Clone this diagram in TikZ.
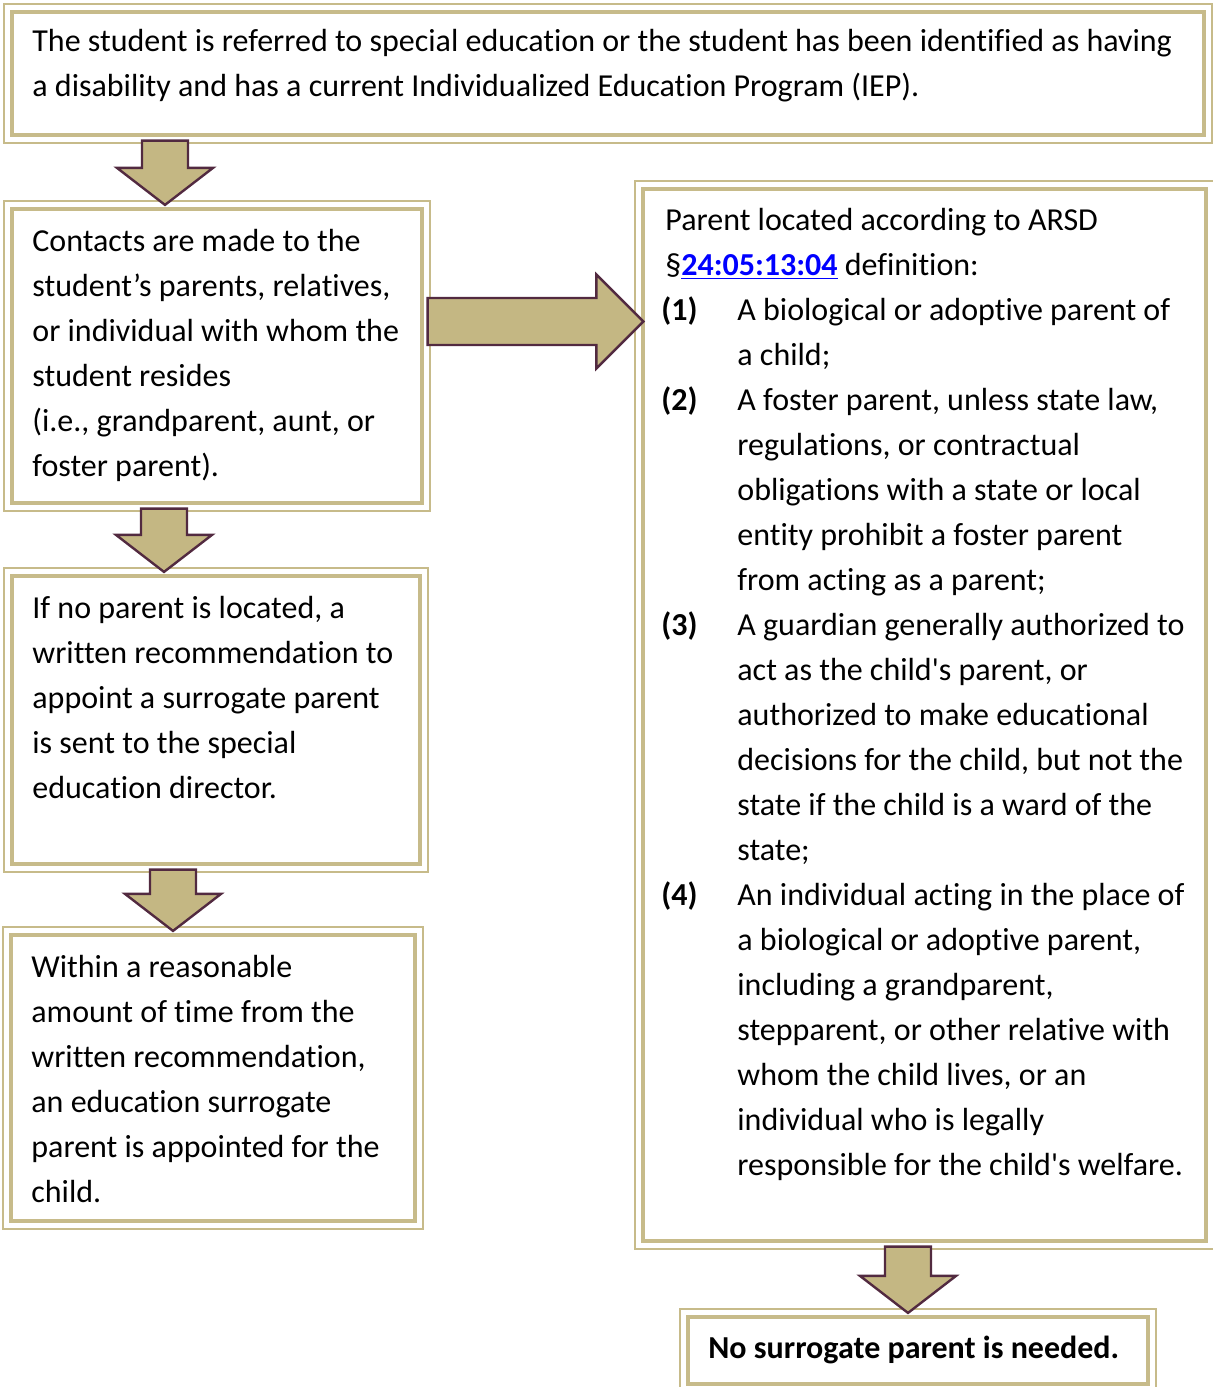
\documentclass[tikz,border=0pt]{standalone}
\usepackage{fontspec}
\setmainfont{Carlito}[Ligatures={TeX,NoCommon}]
\usetikzlibrary{fit,calc}
\definecolor{frametan}{RGB}{199,187,138}
\definecolor{arrowtan}{RGB}{196,183,131}
\definecolor{arrowedge}{RGB}{82,42,64}
\definecolor{linkblue}{RGB}{0,0,255}
\newcommand{\sq}{\textquotesingle}
\newcommand{\natspace}{\frenchspacing\spaceskip=0pt\xspaceskip=0pt\relax}
\newcommand{\listno}[1]{\makebox[38pt][l]{\textbf{#1}}}
\newcommand{\listindent}{\hspace*{38pt}}
% block arrow pointing down: centre x, from node, to node
\newcommand{\blockdown}[3]{%
  \path (#1,0 |- #2.south) coordinate (s) (#1,0 |- #3.north) coordinate (t);
  \draw[blockarrow] ([shift={(-11.5pt,-2pt)}]s) -- ([shift={(-11.5pt,19.75pt)}]t)
    -- ([shift={(-24pt,19.75pt)}]t) -- ([yshift=1.25pt]t)
    -- ([shift={(24pt,19.75pt)}]t) -- ([shift={(11.5pt,19.75pt)}]t)
    -- ([shift={(11.5pt,-2pt)}]s) -- cycle;}
\begin{document}
\begin{tikzpicture}[x=0.5pt,y=-0.5pt,
  every node/.style={inner sep=0pt,font=\fontsize{16pt}{22.5pt}\selectfont},
  frame/.style={draw=frametan,line width=1.6pt,fit={#1}},
  txt/.style={anchor=base west,align=left,text width=590pt},
  blockarrow/.style={fill=arrowtan,draw=arrowedge,line width=1.2pt,line join=miter}]
\useasboundingbox (0,0) rectangle (1212,1387);
% boxes
\node[frame={(12,12) (1204,135)}] (top) {};
\node[frame={(12,209) (422,503)}] (contact) {};
\node[frame={(12,576) (420,864)}] (recommend) {};
\node[frame={(11,935) (415,1221)}] (appoint) {};
\node[frame={(643,189) (1206,1241)}] (parent) {};
\node[frame={(688,1317) (1148,1384)}] (none) {};
\foreach \n in {top,contact,recommend,appoint,parent,none}
  \draw[frametan,line width=1pt] ([shift={(-3pt,3pt)}]\n.north west) rectangle ([shift={(3pt,-3pt)}]\n.south east);
% texts
\node[txt] (top-text) at (32,51) {\natspace The student is referred to special education or the student has been identified as having\\
  a disability and has a current Individualized Education Program (IEP).};
\node[txt] (contact-text) at (32,251) {\natspace Contacts are made to the\\ student’s parents, relatives,\\ or individual with whom the\\
  student resides\\ (i.e., grandparent, aunt, or\\ foster parent).};
\node[txt] (recommend-text) at (32,618) {\natspace If no parent is located, a\\ written recommendation to\\ appoint a surrogate parent\\
  is sent to the special\\ education director.};
\node[txt] (appoint-text) at (31,977) {\natspace Within a reasonable\\ amount of time from the\\ written recommendation,\\
  an education surrogate\\ parent is appointed for the\\ child.};
\node[txt] (parent-text) at (661,230) {\natspace\hspace*{2pt}Parent located according to ARSD\\
  \hspace*{2pt}§\textcolor{linkblue}{\textbf{\underline{24:05:13:04}}} definition:\\
  \listno{(1)}A biological or adoptive parent of\\ \listindent a child;\\
  \listno{(2)}A foster parent, unless state law,\\ \listindent regulations, or contractual\\
  \listindent obligations with a state or local\\ \listindent entity prohibit a foster parent\\
  \listindent from acting as a parent;\\
  \listno{(3)}A guardian generally authorized to\\ \listindent act as the child\sq s parent, or\\
  \listindent authorized to make educational\\ \listindent decisions for the child, but not the\\
  \listindent state if the child is a ward of the\\ \listindent state;\\
  \listno{(4)}An individual acting in the place of\\ \listindent a biological or adoptive parent,\\
  \listindent including a grandparent,\\ \listindent stepparent, or other relative with\\
  \listindent whom the child lives, or an\\ \listindent individual who is legally\\
  \listindent responsible for the child\sq s welfare.};
\node[txt] (none-text) at (708,1358) {\natspace\textbf{No surrogate parent is needed.}};
% arrows
\blockdown{165}{top}{contact}
\blockdown{164}{contact}{recommend}
\blockdown{173}{recommend}{appoint}
\blockdown{908}{parent}{none}
\path (contact.east |- 0,321.5) coordinate (s) (parent.west |- 0,321.5) coordinate (t);
\draw[blockarrow] ([shift={(2pt,11.75pt)}]s) -- ([shift={(-22.5pt,11.75pt)}]t)
  -- ([shift={(-22.5pt,23.5pt)}]t) -- ([xshift=1pt]t)
  -- ([shift={(-22.5pt,-23.5pt)}]t) -- ([shift={(-22.5pt,-11.75pt)}]t)
  -- ([shift={(2pt,-11.75pt)}]s) -- cycle;
\end{tikzpicture}
\end{document}
